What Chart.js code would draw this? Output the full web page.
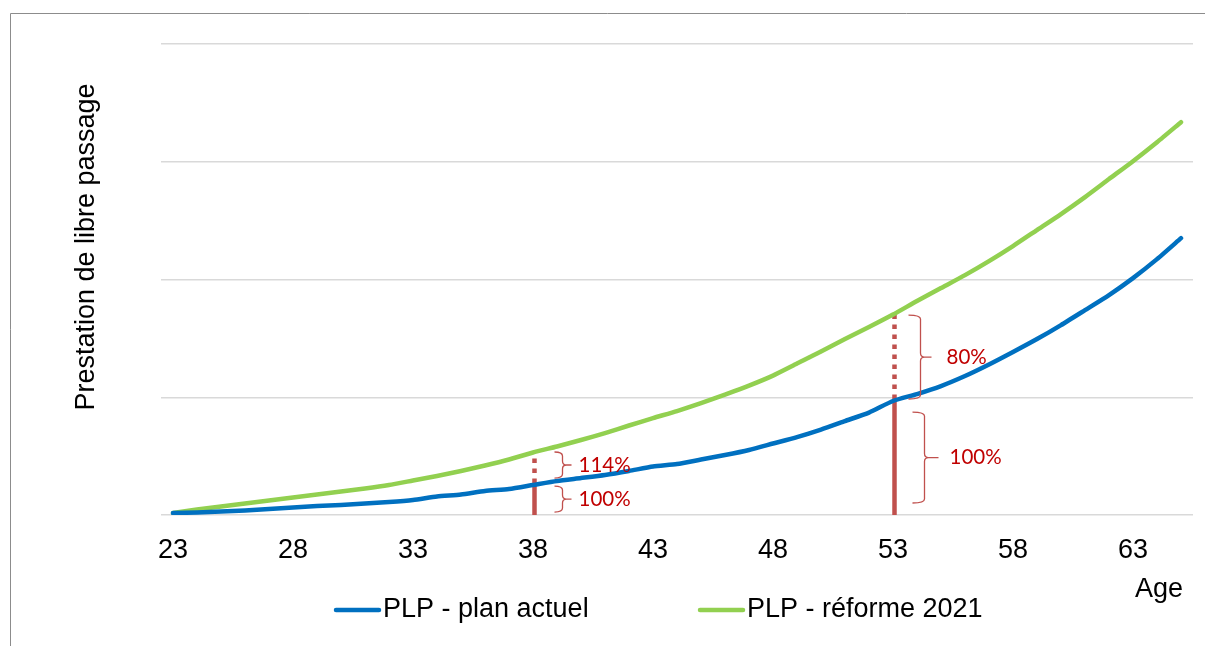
<!DOCTYPE html>
<html>
<head>
<meta charset="utf-8">
<script src="https://cdn.jsdelivr.net/npm/chart.js@4/dist/chart.umd.min.js"></script>
<style>
html,body{margin:0;padding:0;background:#fff;}
#wrap{width:1205px;height:646px;position:relative;}
</style>
</head>
<body>
<div id="wrap"><canvas id="c" width="1205" height="646"></canvas></div>
<script>
const ages = [23,24,25,26,27,28,29,30,31,32,33,34,35,36,37,38,39,40,41,42,43,44,45,46,47,48,49,50,51,52,53,54,55,56,57,58,59,60,61,62,63,64,65];
const planActuel = [1.7,2.1,3.0,3.8,5.1,6.4,7.6,8.5,9.8,11.0,12.7,15.7,17.4,20.4,22.1,25.5,28.9,31.4,34.0,37.4,41.2,43.3,47.1,50.9,55.2,60.7,66.2,72.6,79.8,87.0,96.8,102.7,109.5,118.0,127.8,138.4,149.4,161.3,174.0,186.8,201.2,217.3,235.1];
const reforme2021 = [1.7,4.7,7.2,9.8,12.3,14.9,17.4,19.9,22.5,25.5,29.3,33.1,37.4,42.0,47.1,53.1,58.2,63.7,69.6,76.0,82.3,88.3,95.0,102.3,109.9,118.4,128.6,138.8,149.4,159.6,170.2,181.7,192.7,203.7,215.6,228.4,242.0,255.6,270.0,285.3,300.5,316.6,333.6];
const tickAges = [23,28,33,38,43,48,53,58,63];
const seriesNames = ['PLP - plan actuel','PLP - réforme 2021'];
const markerAges = [38,53];
const braceAge = [38,38,53,53];
const braceLow = [2.5,31.4,10.2,98.5];
const braceHigh = [24.6,53.5,87.4,169.8];
const braceText = ['100%','114%','100%','80%'];
const yAxisTitle = 'Prestation de libre passage';
const xAxisTitle = 'Age';

// styles (pixel offsets relative to marker line)
const braceStyle = [
  {vx:28, hook:8, tip:9, tx:44},
  {vx:28, hook:8, tip:9, tx:44},
  {vx:30, hook:12, tip:14, tx:55},
  {vx:26, hook:12, tip:11, tx:52}
];
const BLUE = '#0070c0', GREEN = '#92d050', RED = '#c0504d', TXTRED = '#c00000';
const FONT = '"Liberation Sans", Arial, sans-serif';

const decorPlugin = {
  id: 'decor',
  beforeDraw(chart) {
    const ctx = chart.ctx;
    ctx.save();
    ctx.strokeStyle = '#8c8c8c';
    ctx.lineWidth = 1;
    ctx.beginPath();
    ctx.moveTo(10.5, 646);
    ctx.lineTo(10.5, 13.5);
    ctx.lineTo(1205, 13.5);
    ctx.stroke();
    ctx.restore();
  },
  beforeDatasetsDraw(chart) {
    const ctx = chart.ctx;
    const xs = chart.scales.x, ys = chart.scales.y;
    ctx.save();
    ctx.strokeStyle = RED;
    ctx.lineWidth = 4.5;
    ctx.lineCap = 'butt';
    markerAges.forEach(a => {
      const i = ages.indexOf(a);
      const x = xs.getPixelForValue(i) + 1.5;
      const y0 = ys.getPixelForValue(0);
      const y1 = ys.getPixelForValue(planActuel[i]);
      const y2 = ys.getPixelForValue(reforme2021[i]);
      ctx.setLineDash([]);
      ctx.beginPath(); ctx.moveTo(x, y0); ctx.lineTo(x, y1); ctx.stroke();
      ctx.setLineDash([4.5, 5.5]);
      ctx.beginPath(); ctx.moveTo(x, y1 - 2); ctx.lineTo(x, y2); ctx.stroke();
    });
    ctx.restore();
  },
  afterDatasetsDraw(chart) {
    const ctx = chart.ctx;
    const xs = chart.scales.x, ys = chart.scales.y;
    ctx.save();
    // braces
    braceAge.forEach((a, k) => {
      const st = braceStyle[k];
      const i = ages.indexOf(a);
      const xl = xs.getPixelForValue(i) + 1.5;
      const xv = xl + st.vx;
      const top = ys.getPixelForValue(braceHigh[k]);
      const bot = ys.getPixelForValue(braceLow[k]);
      const mid = (top + bot) / 2;
      const r = 4;
      ctx.strokeStyle = RED;
      ctx.lineWidth = 1.3;
      ctx.setLineDash([]);
      ctx.beginPath();
      ctx.moveTo(xv - st.hook, top);
      ctx.quadraticCurveTo(xv, top, xv, top + r);
      ctx.lineTo(xv, mid - r);
      ctx.quadraticCurveTo(xv, mid, xv + r, mid);
      ctx.lineTo(xv + st.tip, mid);
      ctx.moveTo(xv + r, mid);
      ctx.quadraticCurveTo(xv, mid, xv, mid + r);
      ctx.lineTo(xv, bot - r);
      ctx.quadraticCurveTo(xv, bot, xv - st.hook, bot);
      ctx.stroke();
      ctx.fillStyle = TXTRED;
      ctx.font = '20.5px Lato, "Open Sans", sans-serif';
      ctx.textAlign = 'left';
      ctx.textBaseline = 'middle';
      ctx.fillText(braceText[k], xl + st.tx, mid);
    });
    // axis titles
    ctx.fillStyle = '#000';
    ctx.font = '27px ' + FONT;
    ctx.textBaseline = 'middle';
    ctx.save();
    ctx.translate(87, 247);
    ctx.rotate(-Math.PI / 2);
    ctx.textAlign = 'center';
    ctx.fillText(yAxisTitle, 0, 0);
    ctx.restore();
    ctx.textAlign = 'right';
    ctx.fillText(xAxisTitle, 1183, 590);
    // legend
    const legendItems = [
      {color: BLUE, label: seriesNames[0], x: 334},
      {color: GREEN, label: seriesNames[1], x: 698}
    ];
    const ly = 610;
    legendItems.forEach(it => {
      ctx.strokeStyle = it.color;
      ctx.lineWidth = 4.5;
      ctx.lineCap = 'round';
      ctx.beginPath();
      ctx.moveTo(it.x + 2, ly);
      ctx.lineTo(it.x + 45, ly);
      ctx.stroke();
      ctx.fillStyle = '#000';
      ctx.textAlign = 'left';
      ctx.fillText(it.label, it.x + 49, ly);
    });
    ctx.restore();
  }
};

new Chart(document.getElementById('c'), {
  type: 'line',
  data: {
    labels: ages.map(String),
    datasets: [
      {label: seriesNames[0], data: planActuel, borderColor: BLUE, backgroundColor: BLUE, borderWidth: 4.5, pointRadius: 0, tension: 0.2, borderCapStyle: 'round', borderJoinStyle: 'round'},
      {label: seriesNames[1], data: reforme2021, borderColor: GREEN, backgroundColor: GREEN, borderWidth: 4.5, pointRadius: 0, tension: 0.2, borderCapStyle: 'round', borderJoinStyle: 'round'}
    ]
  },
  options: {
    responsive: false,
    animation: false,
    devicePixelRatio: 1,
    layout: {padding: {top: 44, right: 12, bottom: 0, left: 0}},
    plugins: {legend: {display: false}, tooltip: {enabled: false}},
    scales: {
      x: {
        type: 'category',
        offset: true,
        grid: {display: false, drawTicks: false},
        border: {display: false},
        ticks: {
          autoSkip: false, maxRotation: 0, minRotation: 0, padding: 19,
          color: '#000', font: {family: FONT, size: 27},
          callback: function(v, i) { return tickAges.includes(ages[i]) ? String(ages[i]) : null; }
        },
        afterFit: s => { s.height = 131; }
      },
      y: {
        min: 0, max: 400,
        ticks: {display: false, stepSize: 100},
        grid: {color: '#d9d9d9', lineWidth: 1.5, drawTicks: false},
        border: {display: false},
        afterFit: s => { s.width = 161; }
      }
    }
  },
  plugins: [decorPlugin]
});
</script>
</body>
</html>
